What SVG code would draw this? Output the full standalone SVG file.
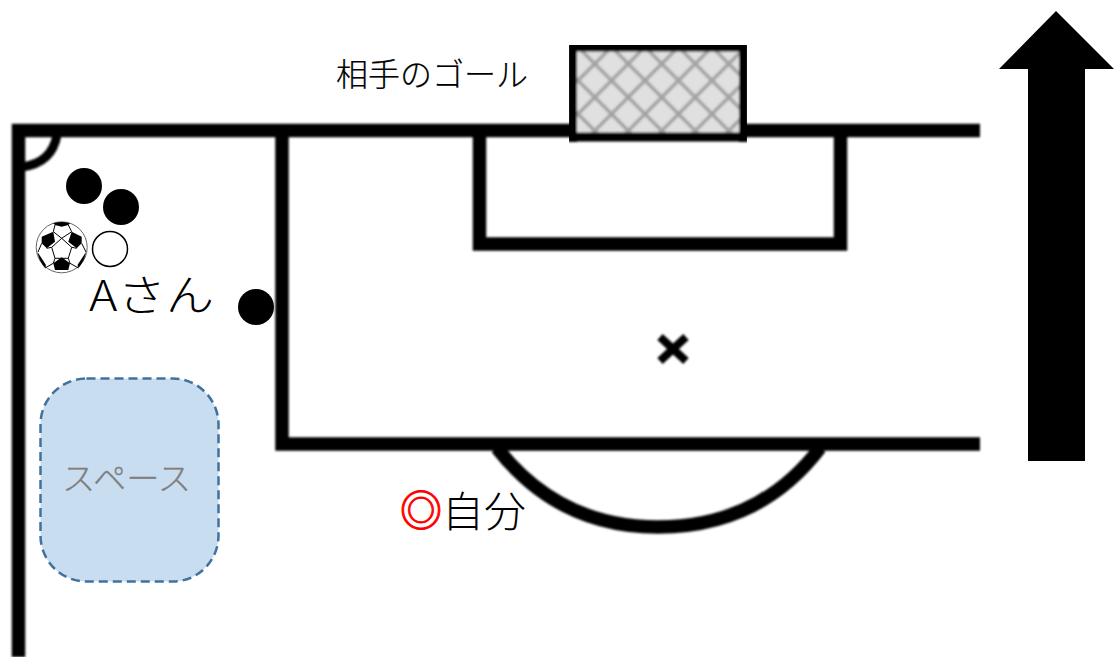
<svg xmlns="http://www.w3.org/2000/svg" width="1115" height="657" viewBox="0 0 1115 657">
<style>
.t{font-family:"Noto Sans CJK JP","Liberation Sans",sans-serif;fill:#000}
.l{fill:none;stroke:#000;stroke-width:13.500}
.p{fill:#000}
</style>
<defs>
<filter id="soft" x="-2%" y="-2%" width="104%" height="104%"><feGaussianBlur stdDeviation="1.100"/></filter>
<pattern id="net" width="33.500" height="33.500" patternUnits="userSpaceOnUse" x="578" y="47">
<rect width="33.500" height="33.500" fill="#e0e0e0"/>
<path d="M0 0L33.500 33.500M33.500 0L0 33.500" stroke="#a2a2a2" stroke-width="3.500"/>
</pattern>
</defs>
<g id="field" filter="url(#soft)">
<path class="l" d="M980 130.500H18.500V657"/>
<path class="l" d="M282 131V444H980"/>
<path class="l" d="M479.500 131V244H840.500V131"/>
<path d="M22 167Q52 163 57 135" fill="none" stroke="#000" stroke-width="9"/>
<path class="l" d="M497 448C540 503 595 527 658 527C722 527 778 503 820 448"/>
<path d="M660 337L673 349L686 337M660 361L673 349L686 361" fill="none" stroke="#000" stroke-width="8"/>
</g>
<g id="goal" filter="url(#soft)">
<rect x="572.500" y="47" width="171" height="90" fill="url(#net)" stroke="#000" stroke-width="9"/>
<path d="M572.500 130V142M743.500 130V142" stroke="#000" stroke-width="9"/>
</g>
<text class="t" x="336" y="86" font-size="32" font-weight="300" stroke="#000" stroke-width="0.200">相手のゴール</text>
<g id="up-arrow"><polygon class="p" points="1056,11 1114,69 1085,69 1085,461 1028,461 1028,69 999,69"/></g>
<g id="opponent-1"><circle class="p" cx="84" cy="186" r="18"/></g>
<g id="opponent-2"><circle class="p" cx="121" cy="207" r="18"/></g>
<g id="opponent-3"><circle class="p" cx="256" cy="307" r="18"/></g>
<g id="player-a"><circle cx="110" cy="249" r="17.500" fill="#fff" stroke="#000" stroke-width="1.500"/>
<text class="t" x="89" y="311" font-size="43" font-weight="300" textLength="125" lengthAdjust="spacingAndGlyphs">Aさん</text></g>
<g id="ball">
<circle cx="61.700" cy="247.300" r="25.500" fill="#fff" stroke="#666" stroke-width="1"/>
<path class="p" d="M41.700 236.700L53.300 231.700L55 241.700L46.700 248.300L41.700 243.300ZM71.700 231.700L81.700 236.700L81.700 243.300L76.700 248.300L68.300 241.700ZM61.700 257.300L70 263.300L68.300 270L55 270L53.300 263.300ZM53.300 223.300Q61.700 220.500 70 223.300L68.300 225L61.700 226.700L55 225ZM37.500 252Q39 261 45 268L46 265ZM86 252Q84.500 261 78.500 268L77.500 265Z"/>
<path d="M61.700 238.300L51.700 247.300L55 258.300H68.300L71.700 247.300ZM61.700 238.300L53.300 231.700L55 225M61.700 238.300L71.700 231.700L68.300 225M51.700 247.300L46.700 248.300M71.700 247.300L76.700 248.300M55 258.300L53.300 263.300M68.300 258.300L70 263.300M41.700 243.300L38 252M81.700 243.300L86 252M53.300 263.300L45 268M70 263.300L78.500 268" fill="none" stroke="#000" stroke-width="1"/>
</g>
<g id="space">
<rect x="40.500" y="378.500" width="178" height="203" rx="46" fill="#c9ddf0" stroke="#41719c" stroke-width="2.500" stroke-dasharray="9 5"/>
<text class="t" x="62" y="490" font-size="32" font-weight="300" style="fill:#7f7f7f" stroke="#7f7f7f" stroke-width="0.300" textLength="129" lengthAdjust="spacingAndGlyphs">スペース</text>
</g>
<g id="me">
<text class="t" x="400" y="526" font-size="42" style="fill:#f00" stroke="#f00" stroke-width="1">◎</text>
<text class="t" x="442" y="527" font-size="42" font-weight="300">自分</text>
</g>
</svg>
